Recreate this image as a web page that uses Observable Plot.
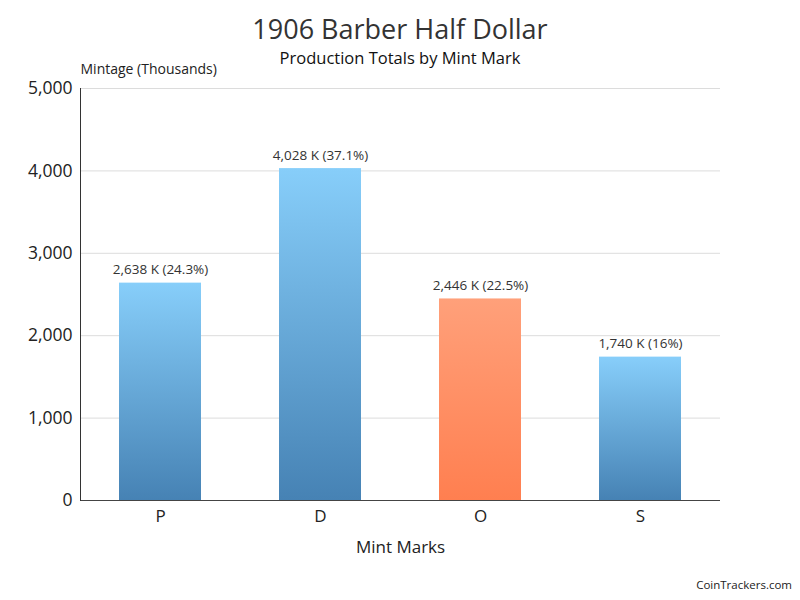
<!DOCTYPE html>
<html>
<head>
<meta charset="utf-8">
<script src="https://cdn.jsdelivr.net/npm/d3@7"></script>
<script src="https://cdn.jsdelivr.net/npm/@observablehq/plot@0.6"></script>
<style>
  html, body { margin: 0; padding: 0; background: #fff; }
  body { width: 800px; height: 600px; position: relative; overflow: hidden; font-family: "Open Sans", sans-serif; }
  #title { position: absolute; left: 0; width: 800px; top: 10px; text-align: center; font-size: 27px; color: #333; }
  #subtitle { position: absolute; left: 0; width: 800px; top: 46px; text-align: center; font-size: 16.5px; color: #111; }
  #chart { position: absolute; left: 0; top: 0; }
  #caption { position: absolute; right: 8px; top: 577px; font-size: 11.5px; color: #222; }
</style>
</head>
<body>
<div id="chart"></div>
<div id="title">1906 Barber Half Dollar</div>
<div id="subtitle">Production Totals by Mint Mark</div>
<div id="caption">CoinTrackers.com</div>
<script>
const mintMarks = ["P", "D", "O", "S"];
const mintages = [2638, 4028, 2446, 1740];
const yTicks = [0, 1000, 2000, 3000, 4000, 5000];
const highlighted = "O";

const total = d3.sum(mintages);
const data = mintMarks.map((m, i) => ({
  mark: m,
  value: mintages[i],
  label: `${d3.format(",")(mintages[i])} K (${Math.round(mintages[i] / total * 1000) / 10}%)`
}));

const defs = () => {
  const svg = d3.create("svg:defs");
  const g1 = svg.append("linearGradient").attr("id", "blueGrad").attr("x1", 0).attr("y1", 0).attr("x2", 0).attr("y2", 1);
  g1.append("stop").attr("offset", "0%").attr("stop-color", "#87cefa");
  g1.append("stop").attr("offset", "100%").attr("stop-color", "#4682b4");
  const g2 = svg.append("linearGradient").attr("id", "orangeGrad").attr("x1", 0).attr("y1", 0).attr("x2", 0).attr("y2", 1);
  g2.append("stop").attr("offset", "0%").attr("stop-color", "#ffa07a");
  g2.append("stop").attr("offset", "100%").attr("stop-color", "#ff7f50");
  return svg.node();
};

const chart = Plot.plot({
  width: 800,
  height: 600,
  marginLeft: 80,
  marginRight: 80,
  marginTop: 88,
  marginBottom: 100,
  style: { background: "transparent", fontFamily: "Open Sans, sans-serif", color: "#333" },
  x: { domain: mintMarks, paddingInner: 0.49, paddingOuter: 0.245, label: null, axis: null },
  y: { domain: [0, 5000], label: null, axis: null },
  color: { type: "identity" },
  marks: [
    defs,
    Plot.ruleY(yTicks.filter(t => t > 0), { stroke: "#dcdcdc", strokeWidth: 1 }),
    Plot.barY(data, {
      x: "mark", y: "value",
      fill: d => d.mark === highlighted ? "url(#orangeGrad)" : "url(#blueGrad)"
    }),
    Plot.text(data, {
      x: "mark", y: "value", text: "label",
      lineAnchor: "bottom", dy: -9, fontSize: 13.5, fill: "#333"
    }),
    Plot.axisY(yTicks, {
      tickSize: 0, tickPadding: 8, fontSize: 17.5, fill: "#222",
      tickFormat: d3.format(","), label: null
    }),
    Plot.axisX({
      tickSize: 0, tickPadding: 9, fontSize: 17, fill: "#222", label: null
    }),
    Plot.ruleY([0], { stroke: "#444", strokeWidth: 1 }),
    Plot.text(["Mintage (Thousands)"], {
      frameAnchor: "top-left", dy: -15, textAnchor: "start", lineAnchor: "bottom", fontSize: 14, fill: "#222"
    }),
    Plot.text(["Mint Marks"], {
      frameAnchor: "bottom", dy: 47, lineAnchor: "middle", fontSize: 17, fill: "#222"
    }),
    Plot.frame({ anchor: "left", stroke: "#333" })
  ]
});
document.getElementById("chart").append(chart);
</script>
</body>
</html>
